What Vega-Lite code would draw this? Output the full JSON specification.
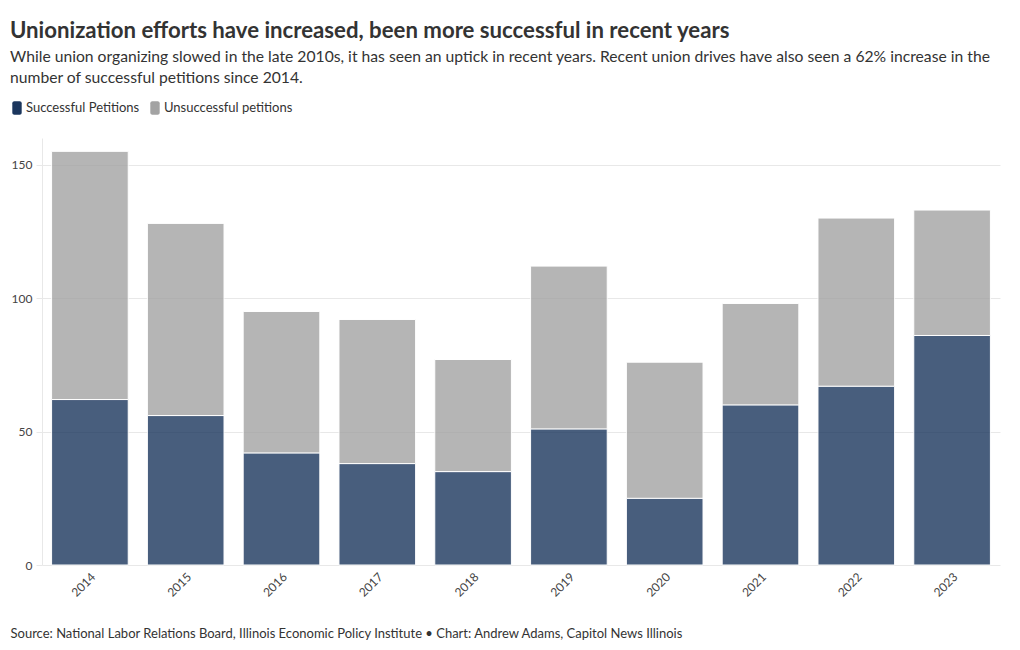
{
  "$schema": "https://vega.github.io/schema/vega-lite/v6.json",
  "width": 958,
  "height": 427,
  "autosize": {"type": "none"},
  "padding": {"left": 42, "top": 138, "right": 20, "bottom": 85},
  "background": "white",
  "title": {
    "text": "Unionization efforts have increased, been more successful in recent years",
    "subtitle": ["While union organizing slowed in the late 2010s, it has seen an uptick in recent years. Recent union drives have also seen a 62% increase in the", "number of successful petitions since 2014."],
    "anchor": "start",
    "frame": "group",
    "dx": -32,
    "offset": 15,
    "font": "Lato",
    "fontSize": 22.2,
    "fontWeight": "bold",
    "color": "#333333",
    "subtitleFont": "Lato",
    "subtitleFontSize": 15.7,
    "subtitleColor": "#333333",
    "subtitleLineHeight": 21,
    "subtitlePadding": 8
  },
  "data": {
    "values": [
      {"year": "2014", "type": "Successful Petitions", "count": 62},
      {"year": "2014", "type": "Unsuccessful petitions", "count": 93},
      {"year": "2015", "type": "Successful Petitions", "count": 56},
      {"year": "2015", "type": "Unsuccessful petitions", "count": 72},
      {"year": "2016", "type": "Successful Petitions", "count": 42},
      {"year": "2016", "type": "Unsuccessful petitions", "count": 53},
      {"year": "2017", "type": "Successful Petitions", "count": 38},
      {"year": "2017", "type": "Unsuccessful petitions", "count": 54},
      {"year": "2018", "type": "Successful Petitions", "count": 35},
      {"year": "2018", "type": "Unsuccessful petitions", "count": 42},
      {"year": "2019", "type": "Successful Petitions", "count": 51},
      {"year": "2019", "type": "Unsuccessful petitions", "count": 61},
      {"year": "2020", "type": "Successful Petitions", "count": 25},
      {"year": "2020", "type": "Unsuccessful petitions", "count": 51},
      {"year": "2021", "type": "Successful Petitions", "count": 60},
      {"year": "2021", "type": "Unsuccessful petitions", "count": 38},
      {"year": "2022", "type": "Successful Petitions", "count": 67},
      {"year": "2022", "type": "Unsuccessful petitions", "count": 63},
      {"year": "2023", "type": "Successful Petitions", "count": 86},
      {"year": "2023", "type": "Unsuccessful petitions", "count": 47}
    ]
  },
  "mark": {"type": "bar", "opacity": 0.8, "stroke": "white", "strokeWidth": 1, "strokeOpacity": 1},
  "encoding": {
    "x": {
      "field": "year",
      "type": "ordinal",
      "scale": {"paddingInner": 0.2, "paddingOuter": 0.1},
      "axis": {
        "title": "Source: National Labor Relations Board, Illinois Economic Policy Institute • Chart: Andrew Adams, Capitol News Illinois",
        "titleFont": "Lato",
        "titleFontSize": 13,
        "titleFontWeight": "normal",
        "titleColor": "#333333",
        "titleAnchor": "start",
        "titleAlign": "left",
        "titleBaseline": "alphabetic",
        "titleX": -32,
        "titleY": 72,
        "labelAngle": -45,
        "labelFont": "Lato",
        "labelFontSize": 12,
        "labelColor": "#444444",
        "domain": false,
        "ticks": false,
        "labelPadding": 6
      }
    },
    "y": {
      "field": "count",
      "type": "quantitative",
      "stack": "zero",
      "scale": {"domain": [0, 160], "nice": false},
      "axis": {
        "title": null,
        "values": [0, 50, 100, 150],
        "labelFont": "Lato",
        "labelFontSize": 12,
        "labelColor": "#444444",
        "domain": true,
        "domainColor": "#e8e8e8",
        "tickColor": "#e8e8e8",
        "tickSize": 6,
        "gridColor": "#e8e8e8",
        "labelPadding": 4
      }
    },
    "color": {
      "field": "type",
      "type": "nominal",
      "scale": {"domain": ["Successful Petitions", "Unsuccessful petitions"], "range": ["#1b365d", "#a3a3a3"]},
      "legend": {
        "title": null,
        "orient": "none",
        "direction": "horizontal",
        "legendX": -32,
        "legendY": -37,
        "symbolType": "M-0.4,-1 h0.8 a0.3,0.3 0 0 1 0.3,0.3 v1.4 a0.3,0.3 0 0 1 -0.3,0.3 h-0.8 a0.3,0.3 0 0 1 -0.3,-0.3 v-1.4 a0.3,0.3 0 0 1 0.3,-0.3 Z",
        "symbolSize": 180,
        "symbolOpacity": 1,
        "symbolStrokeWidth": 0,
        "labelFont": "Lato",
        "labelFontSize": 13,
        "labelColor": "#333333",
        "labelOffset": 2,
        "columnPadding": 8
      }
    },
    "order": {"field": "type", "sort": "ascending"}
  },
  "config": {"view": {"stroke": null}}
}
